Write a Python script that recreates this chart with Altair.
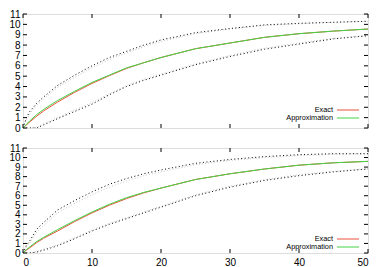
import altair as alt
import pandas as pd

# x positions at which curves were read
X = [0, 0.5, 1, 2, 3, 5, 7.5, 10, 12.5, 15, 17.5, 20, 25, 30, 35, 40, 45, 50]

# top panel
top_exact = [0, 0.3, 0.6, 1.15, 1.65, 2.5, 3.45, 4.3, 5.05, 5.75, 6.3, 6.8, 7.65, 8.2, 8.75, 9.1, 9.35, 9.55]
top_approx = [0, 0.35, 0.7, 1.3, 1.8, 2.65, 3.55, 4.4, 5.1, 5.8, 6.3, 6.8, 7.65, 8.2, 8.75, 9.1, 9.35, 9.55]
top_upper = [0, 1.0, 1.6, 2.4, 3.0, 4.1, 5.1, 6.0, 6.8, 7.4, 8.0, 8.5, 9.2, 9.6, 9.95, 10.1, 10.2, 10.3]
top_upper_grey = [0, 0.8, 1.4, 2.2, 2.8, 3.9, 4.9, 5.8, 6.6, 7.25, 7.85, 8.35, 9.1, 9.55, 9.9, 10.05, 10.2, 10.3]
top_lower = [0, 0, 0, 0, 0.3, 0.9, 1.6, 2.3, 3.2, 4.0, 4.6, 5.1, 6.1, 6.9, 7.6, 8.1, 8.6, 8.9]
top_lower_grey = [0, 0, 0, 0.05, 0.4, 1.0, 1.75, 2.45, 3.3, 4.1, 4.7, 5.2, 6.2, 7.0, 7.7, 8.2, 8.65, 8.95]

# bottom panel
bot_exact = [0, 0.3, 0.55, 1.1, 1.55, 2.3, 3.3, 4.2, 5.0, 5.7, 6.3, 6.8, 7.7, 8.3, 8.8, 9.2, 9.45, 9.6]
bot_approx = [0, 0.35, 0.65, 1.2, 1.65, 2.45, 3.4, 4.3, 5.1, 5.8, 6.35, 6.8, 7.7, 8.3, 8.8, 9.2, 9.45, 9.6]
bot_upper = [0, 0.8, 1.3, 2.5, 3.2, 4.5, 5.5, 6.4, 7.2, 7.8, 8.3, 8.7, 9.4, 9.8, 10.1, 10.3, 10.4, 10.4]
bot_upper_grey = [0, 0.6, 1.1, 2.2, 2.9, 4.2, 5.2, 6.1, 6.9, 7.55, 8.1, 8.5, 9.25, 9.7, 10.0, 10.2, 10.35, 10.4]
bot_lower = [0, 0, 0, 0.1, 0.3, 0.75, 1.5, 2.3, 3.0, 3.6, 4.2, 4.8, 6.0, 6.9, 7.6, 8.1, 8.5, 8.8]
bot_lower_grey = [0, 0, 0.02, 0.15, 0.4, 0.85, 1.6, 2.4, 3.1, 3.7, 4.3, 4.9, 6.1, 7.0, 7.7, 8.2, 8.55, 8.85]

X_TICKS = [0, 10, 20, 30, 40, 50]
Y_TICKS = list(range(0, 12))
LEGEND_LABELS = ["Exact", "Approximation"]

RED = "#e8503c"
GREEN = "#44d444"
FONT = "Liberation Sans"
W = 345


def panel(exact, approx, upper, upper_g, lower, lower_g, H, show_x, leg_y):
    xs = alt.Scale(domain=[0, 50], nice=False)
    ys = alt.Scale(domain=[0, 11], nice=False)
    xaxis = alt.Axis(values=X_TICKS, labels=show_x, ticks=False, domain=False,
                     grid=False, title=None, labelPadding=4, labelOverlap=False)
    yaxis = alt.Axis(values=Y_TICKS, ticks=False, domain=False, grid=False,
                     title=None, labelPadding=3, labelOverlap=False)

    def line(vals, color, dash=None):
        df = pd.DataFrame({"x": X, "y": vals})
        kw = dict(color=color, strokeWidth=1, clip=True)
        if dash:
            kw["strokeDash"] = dash
        return alt.Chart(df).mark_line(**kw).encode(
            x=alt.X("x:Q", scale=xs, axis=xaxis),
            y=alt.Y("y:Q", scale=ys, axis=yaxis),
        )

    layers = [
        line(upper_g, "#c4c4c4", [1, 2]),
        line(lower_g, "#c4c4c4", [1, 2]),
        line(upper, "#000000", [1, 2.5]),
        line(lower, "#000000", [1, 2.5]),
        line(exact, RED),
        line(approx, GREEN),
    ]
    xt = pd.DataFrame({"x": X_TICKS})
    yt = pd.DataFrame({"y": Y_TICKS})
    tick_style = dict(color="#000000", strokeWidth=1)
    layers += [
        alt.Chart(xt).mark_rule(**tick_style).encode(x=alt.X("x:Q", scale=xs, axis=xaxis), y=alt.value(H), y2=alt.value(H - 4)),
        alt.Chart(xt).mark_rule(**tick_style).encode(x=alt.X("x:Q", scale=xs, axis=xaxis), y=alt.value(0), y2=alt.value(4)),
        alt.Chart(yt).mark_rule(**tick_style).encode(y=alt.Y("y:Q", scale=ys, axis=yaxis), x=alt.value(0), x2=alt.value(4)),
        alt.Chart(yt).mark_rule(**tick_style).encode(y=alt.Y("y:Q", scale=ys, axis=yaxis), x=alt.value(W), x2=alt.value(W - 4)),
    ]
    one = alt.Data(values=[{}])
    for lab, col, yy in zip(LEGEND_LABELS, [RED, GREEN], leg_y):
        layers.append(alt.Chart(one).mark_text(align="right", baseline="middle", font=FONT,
                                                fontSize=7.3, fill="#000000").encode(
            x=alt.value(310), y=alt.value(yy), text=alt.value(lab)))
        layers.append(alt.Chart(one).mark_rule(color=col, strokeWidth=1).encode(
            x=alt.value(314), x2=alt.value(336), y=alt.value(yy)))
    return alt.layer(*layers).properties(width=W, height=H)


top = panel(top_exact, top_approx, top_upper, top_upper_grey, top_lower, top_lower_grey,
            114, False, [96, 104])
bot = panel(bot_exact, bot_approx, bot_upper, bot_upper_grey, bot_lower, bot_lower_grey,
            105, True, [91, 99])

chart = alt.vconcat(top, bot, spacing=8, padding=0).configure_view(
    stroke="#000000", strokeWidth=1
).configure_axis(
    labelFont=FONT, labelFontSize=7, labelColor="#000000"
).configure(background="white", padding=0)

chart.save("out.html", embed_options={"renderer": "svg", "actions": False})
